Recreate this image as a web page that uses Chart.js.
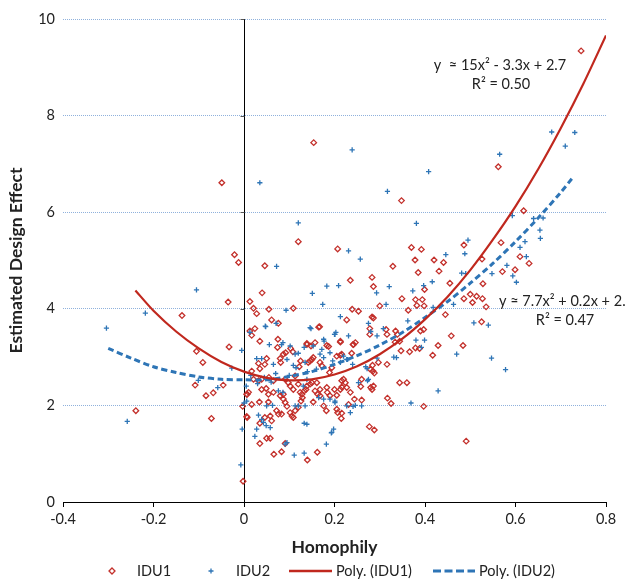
<!DOCTYPE html>
<html>
<head>
<meta charset="utf-8">
<script src="https://cdn.jsdelivr.net/npm/chart.js@4.4.1/dist/chart.umd.min.js"></script>
<style>
  html, body { margin: 0; padding: 0; background: #fff; }
  #wrap { width: 625px; height: 582px; position: relative; }
</style>
</head>
<body>
<div id="wrap"><canvas id="myChart" width="625" height="582"></canvas></div>
<script>
// IDU1 points [homophily, design effect]
var idu1 = [
  [-0.049,6.61],[-0.021,5.12],[-0.012,4.96],[-0.035,4.14],[-0.137,3.86],[-0.105,3.12],[-0.033,3.21],[-0.091,2.89],
  [-0.108,2.42],[-0.084,2.20],[-0.068,2.26],[-0.046,2.42],[-0.239,1.89],[-0.072,1.73],[-0.003,1.98],[-0.002,0.43],
  [0.154,7.44],[0.120,5.39],[0.046,4.89],[0.040,4.33],[0.745,9.34],[0.562,6.94],[0.348,6.24],[0.618,6.03],
  [0.568,5.37],[0.486,5.32],[0.610,5.08],[0.630,4.94],[0.599,4.81],[0.571,4.77],[0.207,5.24],[0.235,4.59],
  [0.370,5.27],[0.392,5.23],[0.378,5.01],[0.420,5.01],[0.441,4.96],[0.385,4.75],[0.431,4.78],[0.329,4.88],
  [0.283,4.65],[0.286,4.46],[0.526,5.03],[0.455,4.53],[0.528,4.52],[0.399,4.40],
  [0.500,4.30],[0.514,4.26],[0.527,4.21],[0.505,4.13],[0.535,4.04],[0.525,3.73],[0.486,4.21],[0.491,1.26],
  [0.397,1.98],[0.458,3.44],[0.484,3.24],[0.429,3.24],[0.417,3.04],[0.445,3.88],[0.397,3.57],[0.390,3.54],
  [0.388,3.18],[0.379,3.19],[0.366,3.11],[0.363,3.97],[0.349,4.21],[0.379,4.19],[0.394,4.19],[0.398,4.06],
  [0.382,4.07],[0.300,4.06],[0.239,3.99],[0.253,3.95],[0.227,3.77],[0.283,3.83],[0.286,3.81],[0.278,3.59],
  [0.278,3.47],[0.314,3.57],[0.316,3.47],[0.335,3.54],[0.339,3.47],[0.344,3.33],[0.334,3.31],[0.213,3.33],
  [0.241,3.26],[0.238,3.08],[0.167,3.63],[0.139,3.28],[0.157,3.30],[0.216,3.06],[0.213,3.04],[0.297,2.89],
  [0.316,2.85],[0.279,2.75],[0.284,2.83],[0.260,2.54],[0.280,2.37],[0.286,2.40],[0.283,2.33],[0.235,2.27],
  [0.244,2.13],[0.260,2.11],[0.220,2.54],[0.216,2.38],[0.231,2.02],[0.216,1.84],[0.207,1.85],[0.215,1.73],
  [0.277,1.56],[0.288,1.49],[0.162,1.03],[0.140,0.87],[0.347,3.13],[0.285,2.71],[0.288,2.67],[0.344,2.47],
  [0.360,2.47],[0.258,2.39],[0.317,2.15],[0.325,2.04],
  [0.013,3.54],[0.017,3.45],[0.035,3.33],[0.075,3.37],[0.074,3.20],[0.087,3.06],[0.092,3.09],[0.103,3.18],
  [0.108,3.11],[0.080,2.97],[0.081,2.89],[0.050,2.97],[0.046,2.85],[0.032,2.87],[0.035,2.76],[0.125,2.92],
  [0.122,2.80],[0.139,3.26],[0.148,3.23],[0.142,2.89],[0.146,2.92],[0.150,2.95],[0.153,2.99],[0.168,2.89],
  [0.172,2.82],[0.183,3.24],[0.187,3.22],[0.213,3.31],[0.205,3.02],[0.242,3.26],[0.246,3.30],[0.189,2.68],
  [0.194,2.78],[0.017,2.71],[0.021,2.54],[0.032,2.51],[0.039,2.54],[0.055,2.58],[0.065,2.51],[0.091,2.54],
  [0.098,2.47],[0.113,2.61],[0.120,2.44],[0.010,2.27],[0.007,2.23],[0.039,2.33],[0.049,2.35],[0.054,2.23],
  [0.065,2.27],[0.080,2.20],[0.087,2.23],[0.102,2.40],[0.109,2.33],[0.124,2.27],[0.128,2.23],[0.133,2.30],
  [0.137,2.33],[0.139,2.40],[0.146,2.44],[0.150,2.47],[0.161,2.47],[0.168,2.33],[0.168,2.20],[0.157,2.30],
  [0.183,2.37],[0.184,2.27],[0.190,2.20],[0.200,2.33],[0.205,2.21],[0.213,2.33],[0.216,2.51],[0.224,2.47],
  [0.227,2.37],[0.017,2.02],[0.034,2.07],[0.054,2.07],[0.007,1.75],[0.046,1.75],[0.058,1.78],[0.061,1.68],
  [0.072,1.89],[0.076,1.82],[0.083,1.82],[0.087,2.13],[0.091,2.06],[0.095,1.98],[0.102,1.85],[0.106,1.78],
  [0.109,1.75],[0.113,1.89],[0.120,1.96],[0.126,2.09],[0.129,2.16],[0.153,2.07],[0.163,2.23],[0.176,1.99],
  [0.182,1.89],[0.205,1.92],[0.035,1.63],[0.050,1.32],[0.058,1.32],[0.035,1.21],[0.066,0.99],[0.083,1.04],
  [0.091,1.21],[0.013,4.15],[0.021,4.01],[0.028,3.90],[0.055,3.99],[0.109,4.01],[0.024,3.59],[0.061,3.77],
  [0.076,3.70],[0.165,3.62],[0.006,1.77],[0.006,2.23]
];
// IDU2 points
var idu2 = [
  [-0.105,4.39],[-0.218,3.91],[-0.304,3.60],[-0.005,3.14],[-0.027,2.77],[-0.101,2.52],[-0.058,2.37],[-0.258,1.67],
  [-0.004,1.51],[-0.007,0.77],[0.000,2.05],
  [0.035,6.61],[0.120,5.78],[0.072,4.88],[0.151,4.32],[0.239,7.29],[0.408,6.84],[0.565,7.20],[0.680,7.66],
  [0.731,7.65],[0.710,7.37],[0.317,6.43],[0.381,5.77],[0.593,5.93],[0.640,5.87],[0.661,5.88],[0.495,5.42],
  [0.610,5.27],[0.621,5.39],[0.624,5.08],[0.654,5.63],[0.655,5.46],[0.594,4.68],[0.602,4.55],[0.231,5.20],
  [0.257,5.03],[0.446,5.12],[0.488,5.14],[0.548,4.73],[0.581,4.90],[0.481,4.74],[0.490,4.73],[0.183,4.47],
  [0.209,4.48],[0.321,4.46],[0.293,4.33],[0.373,4.37],[0.397,4.48],[0.416,4.56],
  [0.508,3.71],[0.540,3.66],[0.547,2.98],[0.578,2.74],[0.429,2.30],[0.369,2.05],[0.470,3.06],[0.463,4.09],
  [0.399,3.35],[0.380,3.35],[0.392,3.20],[0.362,3.75],[0.314,4.09],[0.213,3.84],[0.174,4.09],[0.275,3.70],
  [0.280,3.53],[0.308,3.59],[0.294,3.44],[0.203,3.51],[0.200,3.47],[0.146,3.61],[0.176,3.37],[0.177,3.33],
  [0.229,2.95],[0.240,2.85],[0.294,2.98],[0.272,2.76],[0.275,2.54],[0.253,2.47],[0.241,1.98],[0.235,1.85],
  [0.201,2.06],[0.198,1.51],[0.193,1.43],[0.182,1.20],[0.133,1.01],[0.133,1.63],[0.131,2.40],[0.139,2.54],
  [0.418,4.03],[0.331,3.00],[0.337,2.99],[0.269,2.80],[0.273,2.51],[0.260,1.99],
  [0.056,3.26],[0.083,3.26],[0.086,3.30],[0.102,3.23],[0.113,3.06],[0.120,3.08],[0.095,2.95],[0.039,2.97],
  [0.028,2.97],[0.065,2.85],[0.109,2.83],[0.115,2.78],[0.135,2.89],[0.172,3.16],[0.168,3.06],[0.176,2.99],
  [0.190,3.09],[0.196,2.92],[0.201,3.47],[0.231,3.44],[0.220,3.02],[0.227,2.95],[0.213,2.89],[0.076,2.30],
  [0.086,2.27],[0.006,2.09],[0.050,1.99],[0.063,2.00],[0.113,1.99],[0.120,1.99],[0.135,1.99],[0.165,2.16],
  [0.176,2.13],[0.190,2.13],[0.201,2.09],[0.227,1.99],[0.246,2.00],[0.032,1.80],[0.043,1.65],[0.049,1.58],
  [0.058,1.54],[0.039,1.71],[0.028,1.51],[0.024,1.36],[0.139,1.61],[0.095,1.23],[0.091,1.20],[0.194,1.44],
  [0.111,0.97],[0.013,3.51],[0.048,3.63],[0.093,3.97],[0.148,3.59],[0.133,3.20],[0.153,3.23],[0.047,3.64],
  [0.071,3.70],[0.015,2.62],[0.045,2.58],[0.070,2.66],[0.100,2.62],[0.140,2.70],[0.160,2.75],[0.030,2.45],
  [0.060,2.48],[0.005,2.40]
];
// trend lines
var poly1X = [-0.24,-0.2,-0.15,-0.1,-0.05,0,0.05,0.1,0.15,0.2,0.25,0.3,0.35,0.4,0.45,0.5,0.55,0.6,0.65,0.7,0.75,0.8];
var poly1Y = [4.38,3.96,3.53,3.18,2.90,2.70,2.57,2.52,2.54,2.64,2.81,3.06,3.38,3.78,4.25,4.80,5.43,6.12,6.89,7.74,8.66,9.66];
var poly2X = [-0.3,-0.25,-0.2,-0.15,-0.1,-0.05,0,0.05,0.1,0.15,0.2,0.25,0.3,0.35,0.4,0.45,0.5,0.55,0.6,0.65,0.7,0.725];
var poly2Y = [3.18,2.98,2.80,2.68,2.59,2.54,2.53,2.53,2.60,2.70,2.85,3.03,3.25,3.51,3.82,4.15,4.53,4.94,5.39,5.88,6.41,6.70];

var seriesNames = ['IDU1', 'IDU2', 'Poly. (IDU1)', 'Poly. (IDU2)'];
var eq1 = ['y  \u2248 15x\u00b2 - 3.3x + 2.7', 'R\u00b2 = 0.50'];
var eq2 = ['y \u2248 7.7x\u00b2 + 0.2x + 2.5', 'R\u00b2 = 0.47'];

var RED = '#C3302B';
var REDLINE = '#C0281E';
var BLUE = '#2E75B6';
var FONT = 'Lato, "Liberation Sans", sans-serif';

function toXY(arr) {
  return arr.map(function (p) { return { x: p[0], y: p[1] }; });
}
function zipXY(xs, ys) {
  return xs.map(function (x, i) { return { x: x, y: ys[i] }; });
}

var extras = {
  id: 'extras',
  beforeDatasetsDraw: function (chart) {
    var ctx = chart.ctx, xs = chart.scales.x, ys = chart.scales.y;
    var x0 = Math.round(xs.getPixelForValue(0)) + 0.5;
    ctx.save();
    ctx.strokeStyle = '#000';
    ctx.lineWidth = 1;
    ctx.beginPath();
    ctx.moveTo(x0, ys.getPixelForValue(0));
    ctx.lineTo(x0, ys.getPixelForValue(10));
    ctx.stroke();
    ctx.strokeStyle = '#555';
    ys.ticks.forEach(function (t) {
      if (t.value === 0) return;
      var py = Math.round(ys.getPixelForValue(t.value)) + 0.5;
      ctx.beginPath();
      ctx.moveTo(x0 - 4, py);
      ctx.lineTo(x0, py);
      ctx.stroke();
    });
    ctx.restore();
  },
  afterDraw: function (chart) {
    var ctx = chart.ctx;
    ctx.save();
    ctx.fillStyle = '#222';
    ctx.font = '14.5px ' + FONT;
    ctx.textBaseline = 'middle';
    // trend line equations
    ctx.textAlign = 'center';
    ctx.fillText(eq1[0], 500, 65);
    ctx.fillText(eq1[1], 501, 84);
    ctx.textAlign = 'left';
    ctx.fillText(eq2[0], 499, 301);
    ctx.textAlign = 'center';
    ctx.fillText(eq2[1], 565, 320);

    // legend
    var ly = 571;
    ctx.textAlign = 'left';
    ctx.strokeStyle = RED;
    ctx.lineWidth = 1.3;
    ctx.beginPath();
    ctx.moveTo(112, ly - 3); ctx.lineTo(115, ly); ctx.lineTo(112, ly + 3); ctx.lineTo(109, ly);
    ctx.closePath();
    ctx.stroke();
    ctx.fillText(seriesNames[0], 137, ly);

    ctx.strokeStyle = BLUE;
    ctx.beginPath();
    ctx.moveTo(208.5, ly); ctx.lineTo(213.5, ly);
    ctx.moveTo(211, ly - 2.5); ctx.lineTo(211, ly + 2.5);
    ctx.stroke();
    ctx.fillText(seriesNames[1], 236, ly);

    ctx.strokeStyle = REDLINE;
    ctx.lineWidth = 2.5;
    ctx.beginPath();
    ctx.moveTo(289, ly); ctx.lineTo(332, ly);
    ctx.stroke();
    ctx.fillText(seriesNames[2], 336, ly);

    ctx.strokeStyle = BLUE;
    ctx.lineWidth = 3;
    ctx.setLineDash([8, 3.5]);
    ctx.beginPath();
    ctx.moveTo(433, ly); ctx.lineTo(475, ly);
    ctx.stroke();
    ctx.setLineDash([]);
    ctx.fillText(seriesNames[3], 479, ly);
    ctx.restore();
  }
};

const ctx = document.getElementById('myChart').getContext('2d');
const myChart = new Chart(ctx, {
  type: 'scatter',
  data: {
    datasets: [
      {
        label: seriesNames[0],
        data: toXY(idu1),
        pointStyle: 'rectRot',
        pointRadius: 2.8,
        pointBorderWidth: 1.3,
        borderColor: RED,
        backgroundColor: 'rgba(255,255,255,0)',
        order: 3
      },
      {
        label: seriesNames[1],
        data: toXY(idu2),
        pointStyle: 'cross',
        pointRadius: 2.6,
        pointBorderWidth: 1.3,
        borderColor: BLUE,
        backgroundColor: BLUE,
        order: 2
      },
      {
        type: 'line',
        label: seriesNames[2],
        data: zipXY(poly1X, poly1Y),
        borderColor: REDLINE,
        borderWidth: 2.2,
        pointRadius: 0,
        tension: 0.3,
        fill: false,
        order: 0
      },
      {
        type: 'line',
        label: seriesNames[3],
        data: zipXY(poly2X, poly2Y),
        borderColor: BLUE,
        borderWidth: 3,
        borderDash: [6, 3.5],
        pointRadius: 0,
        tension: 0.3,
        fill: false,
        order: 1
      }
    ]
  },
  options: {
    responsive: false,
    animation: false,
    layout: { padding: { left: 0, right: 19, top: 19, bottom: 24 } },
    plugins: {
      legend: { display: false },
      tooltip: { enabled: false }
    },
    scales: {
      x: {
        type: 'linear',
        min: -0.4,
        max: 0.8,
        ticks: {
          stepSize: 0.2,
          padding: 4,
          color: '#222',
          font: { family: FONT, size: 14.5 },
          maxRotation: 0,
          callback: function (v) { return String(Math.round(v * 10) / 10); }
        },
        grid: { drawOnChartArea: false, drawTicks: true, tickLength: 5, color: '#000' },
        border: { display: true, color: '#000', width: 1 },
        title: {
          display: true,
          text: 'Homophily',
          color: '#222',
          font: { family: FONT, size: 17.5, weight: 'bold' },
          padding: { top: 0, bottom: 0 }
        },
        afterFit: function (s) { s.height = 56; }
      },
      y: {
        type: 'linear',
        min: 0,
        max: 10,
        ticks: {
          stepSize: 2,
          padding: 8,
          color: '#222',
          font: { family: FONT, size: 14.5 }
        },
        grid: {
          drawTicks: false,
          lineWidth: 1,
          color: function (c) { return c.tick && c.tick.value === 0 ? 'rgba(0,0,0,0)' : '#8FB1DC'; }
        },
        border: { display: false, dash: [1, 1] },
        title: {
          display: true,
          text: 'Estimated Design Effect',
          color: '#222',
          font: { family: FONT, size: 17.5, weight: 'bold' },
          padding: { top: 6, bottom: 0 }
        },
        afterFit: function (s) { s.width = 63; }
      }
    }
  },
  plugins: [extras]
});
</script>
</body>
</html>
